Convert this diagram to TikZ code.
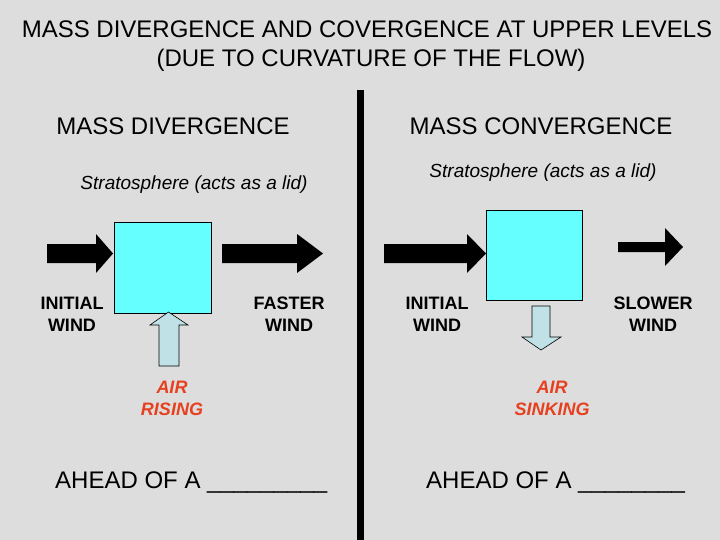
\documentclass[tikz,border=0pt]{standalone}
\usepackage{fontspec}
\setmainfont{Liberation Sans}
\definecolor{bg}{HTML}{DDDDDD}
\definecolor{boxcyan}{HTML}{66FFFF}
\definecolor{airblue}{HTML}{C0E2E6}
\definecolor{airred}{RGB}{230,64,30}
\begin{document}
\begin{tikzpicture}[x=1pt,y=-1pt,
  big/.style={anchor=base,inner sep=0pt,font=\fontsize{24}{28}\selectfont},
  strato/.style={anchor=base,inner sep=0pt,font=\fontsize{19}{22}\selectfont\itshape},
  windlbl/.style={anchor=base,inner sep=0pt,font=\fontsize{18}{21}\selectfont\bfseries},
  airlbl/.style={anchor=base,inner sep=0pt,text=airred,font=\fontsize{18}{21}\selectfont\bfseries\itshape},
  parcel/.style={draw=black,line width=0.6pt,fill=boxcyan},
  windarrow/.style={fill=black},
  airarrow/.style={draw=black,line width=0.6pt,fill=airblue,line join=miter}]
\fill[bg] (0,0) rectangle (720,540);
\useasboundingbox (0,0) rectangle (720,540);

% title
\node[big] (t1) at (367,38) {MASS DIVERGENCE AND COVERGENCE AT UPPER LEVELS};
\node[big] (t2) at (371,67) {(DUE TO CURVATURE OF THE FLOW)};

% divider
\fill (357,90) rectangle (364,540);

% ---------- left: divergence ----------
\node[big] (hdiv) at (173,135) {MASS DIVERGENCE};
\node[strato] (sl) at (194,190) {Stratosphere (acts as a lid)};
\path[parcel] (114,222) rectangle (211,313);
\node (boxl) at (162.5,267.5) {};
\fill[windarrow] (47,244) -- (96,244) -- (96,234) -- (113,253.5) -- (96,273) -- (96,263) -- (47,263) -- cycle;
\fill[windarrow] (222,244) -- (297,244) -- (297,234) -- (323,253.5) -- (297,273) -- (297,263) -- (222,263) -- cycle;
\path[airarrow] (159,366) -- (159,325) -- (150,325) -- (168.5,312) -- (188,325) -- (179,325) -- (179,366) -- cycle;
\node[windlbl] (iwl1) at (72,309) {INITIAL};
\node[windlbl] (iwl2) at (72,331) {WIND};
\node[windlbl] (fw1) at (289,309) {FASTER};
\node[windlbl] (fw2) at (289,331) {WIND};
\node[airlbl] (ar1) at (172,393) {AIR};
\node[airlbl] (ar2) at (172,415) {RISING};
\node[big,anchor=base west] (al) at (55,488) {AHEAD OF A \_\_\_\_\_\_\_\_\_};

% ---------- right: convergence ----------
\node[big] (hcon) at (541,135) {MASS CONVERGENCE};
\node[strato] (sr) at (543,178) {Stratosphere (acts as a lid)};
\path[parcel] (486,210) rectangle (582,300);
\fill[windarrow] (384,244) -- (467,244) -- (467,234) -- (486,253.5) -- (467,273) -- (467,263) -- (384,263) -- cycle;
\fill[windarrow] (618,242) -- (665,242) -- (665,228) -- (683,247) -- (665,266) -- (665,252) -- (618,252) -- cycle;
\path[airarrow] (532,306) -- (550,306) -- (550,337) -- (561,337) -- (541,350) -- (522,337) -- (532,337) -- cycle;
\node[windlbl] (iwr1) at (437,309) {INITIAL};
\node[windlbl] (iwr2) at (437,331) {WIND};
\node[windlbl] (sw1) at (653,309) {SLOWER};
\node[windlbl] (sw2) at (653,331) {WIND};
\node[airlbl] (as1) at (552,393) {AIR};
\node[airlbl] (as2) at (552,415) {SINKING};
\node[big,anchor=base west] (ar) at (426,488) {AHEAD OF A \_\_\_\_\_\_\_\_};
\end{tikzpicture}
\end{document}
